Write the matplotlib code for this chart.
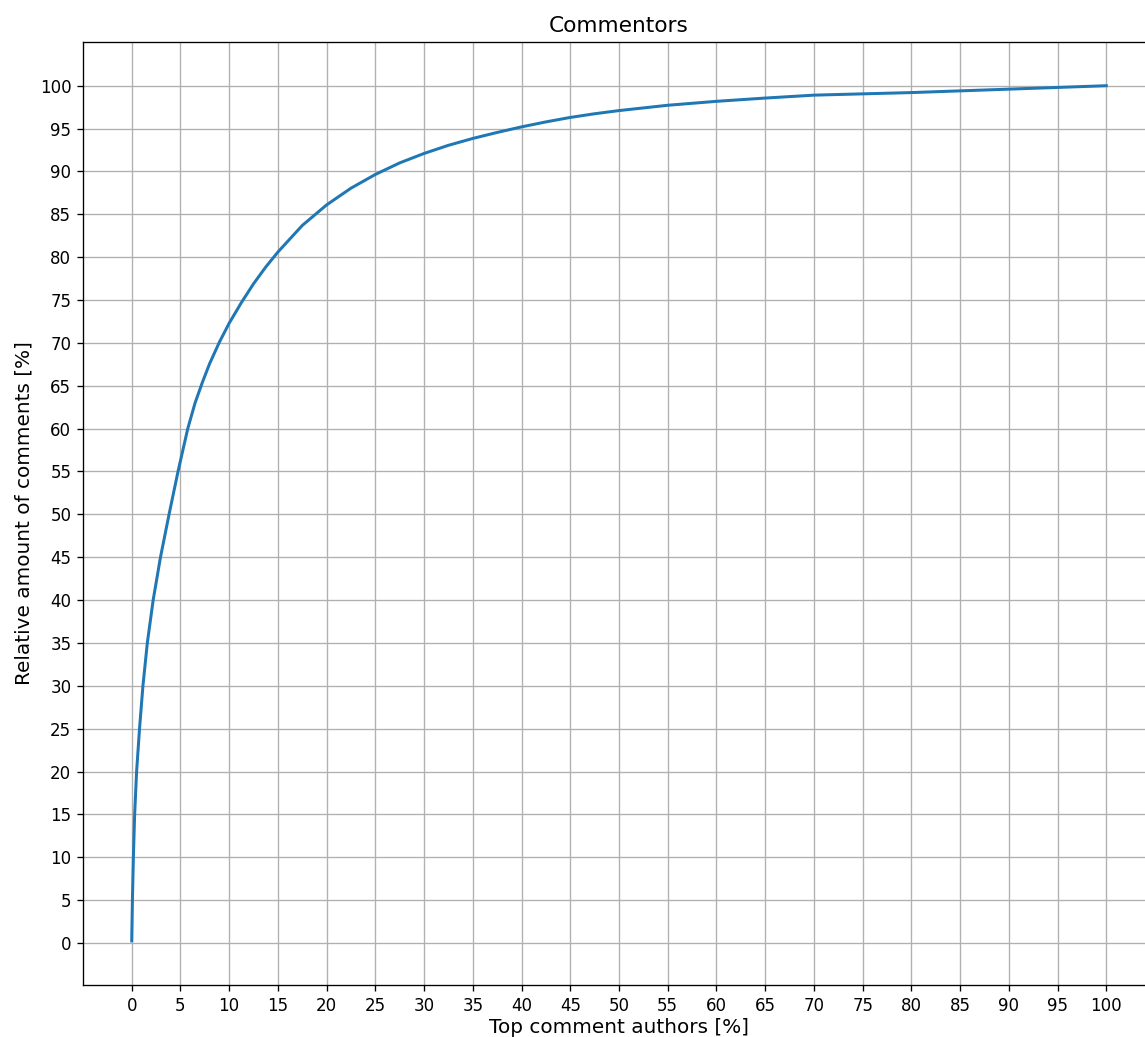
"""
Cumulative share of comments written by the top X% of comment authors.
Saves out.png (1145x1037 px).
"""

import numpy as np
import matplotlib
matplotlib.use("Agg")
import matplotlib.pyplot as plt

# ---------------------------------------------------------------------------
# Data
# ---------------------------------------------------------------------------
top_authors_pct = [
    0.0, 0.07, 0.17, 0.3, 0.5, 0.8, 1.15, 1.6, 2.2, 2.95, 3.83, 4.75,
    5.75, 6.5, 7.25, 8.0, 9.0, 10.0, 11.25, 12.5, 13.75, 15.0, 17.5, 20.0,
    22.5, 25.0, 27.5, 30.0, 32.5, 35.0, 37.5, 40.0, 42.5, 45.0, 47.5, 50.0,
    55.0, 60.0, 65.0, 70.0, 75.0, 80.0, 85.0, 90.0, 95.0, 100.0,
]
comments_pct = [
    0.25, 5.0, 10.0, 15.0, 20.0, 25.0, 30.0, 35.0, 40.0, 45.0, 50.0, 55.0,
    60.0, 63.0, 65.4, 67.6, 70.1, 72.3, 74.7, 76.9, 78.85, 80.6, 83.7, 86.1,
    88.05, 89.65, 91.0, 92.1, 93.05, 93.85, 94.55, 95.2, 95.78, 96.3, 96.73, 97.1,
    97.72, 98.18, 98.56, 98.9, 99.05, 99.2, 99.4, 99.6, 99.8, 100.0,
]

TITLE = "Commentors"
XLABEL = "Top comment authors [%]"
YLABEL = "Relative amount of comments [%]"

DPI = 120


def main() -> None:
    fig = plt.figure(figsize=(1145 / DPI, 1037 / DPI), dpi=DPI, facecolor="white")
    # right spine sits just outside the saved image in the reference
    ax = fig.add_axes([83 / 1145, 52 / 1037, 1072 / 1145, 943 / 1037])

    ax.plot(top_authors_pct, comments_pct, color="#1f77b4", linewidth=1.8,
            solid_joinstyle="round")

    ticks = np.arange(0, 101, 5)
    ax.set_xticks(ticks)
    ax.set_yticks(ticks)
    ax.set_xlim(-5, 105)
    ax.set_ylim(-4.9, 105.1)
    ax.tick_params(labelsize=10)
    ax.grid(True)

    ax.set_title(TITLE, fontsize=13)
    ax.set_xlabel(XLABEL, fontsize=12, labelpad=2)
    ax.set_ylabel(YLABEL, fontsize=12)

    fig.savefig("out.png", dpi=DPI, facecolor="white")


if __name__ == "__main__":
    main()
